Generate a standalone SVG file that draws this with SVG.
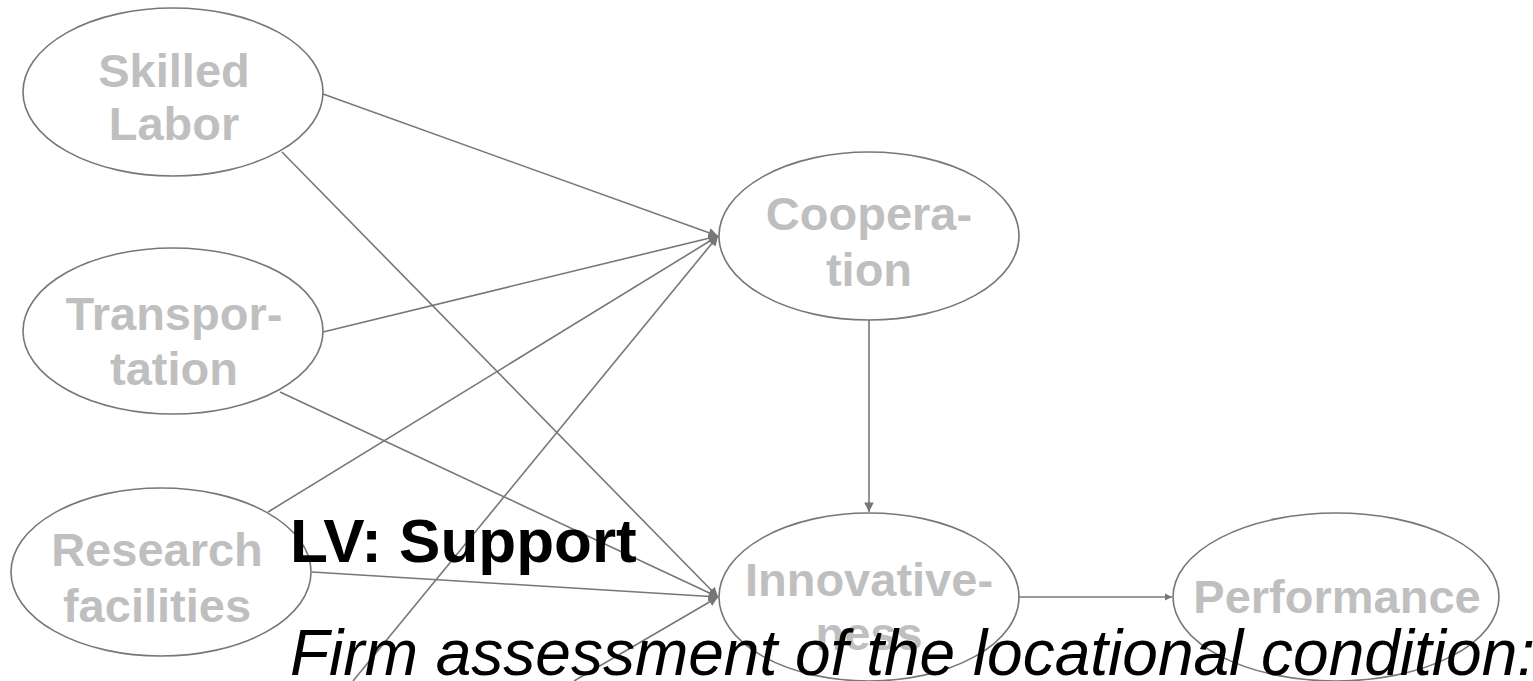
<svg xmlns="http://www.w3.org/2000/svg" width="1533" height="681" viewBox="0 0 1533 681">
  <style>
    .node ellipse { fill: #ffffff; stroke: #777777; stroke-width: 1.6; }
    .node text { font-family: "Liberation Sans", Arial, sans-serif; font-weight: bold; font-size: 47px; fill: #bfbfbf; text-anchor: middle; }
    .edge { stroke: #777777; stroke-width: 1.6; fill: none; marker-end: url(#arrow); }
    .edge.small { marker-end: url(#arrow-small); }
    .title { font-family: "Liberation Sans", Arial, sans-serif; font-weight: bold; font-size: 62px; fill: #000000; }
    .subtitle { font-family: "Liberation Sans", Arial, sans-serif; font-style: italic; font-size: 64px; fill: #000000; }
  </style>
  <defs>
    <marker id="arrow" viewBox="0 0 10 10" refX="10" refY="5" markerWidth="6" markerHeight="6" orient="auto" markerUnits="strokeWidth">
      <path d="M0,0 L10,5 L0,10 z" fill="#777777"/>
    </marker>
    <marker id="arrow-small" viewBox="0 0 10 10" refX="10" refY="5" markerWidth="4.5" markerHeight="4.5" orient="auto" markerUnits="strokeWidth">
      <path d="M0,0 L10,5 L0,10 z" fill="#777777"/>
    </marker>
  </defs>

  <!-- paths between the latent variables -->
  <g id="connectors">
    <line class="edge" x1="323" y1="94" x2="718" y2="236"/>
    <line class="edge" x1="323" y1="332" x2="718" y2="236"/>
    <line class="edge" x1="268" y1="512" x2="718" y2="236"/>
    <line class="edge" x1="353" y1="681" x2="718" y2="236"/>
    <line class="edge" x1="282" y1="152" x2="718" y2="597"/>
    <line class="edge" x1="280" y1="392" x2="718" y2="597"/>
    <line class="edge" x1="312" y1="572" x2="718" y2="597"/>
    <line class="edge" x1="574" y1="681" x2="718" y2="597"/>
    <line class="edge" x1="869" y1="320" x2="869" y2="512"/>
    <line class="edge small" x1="1019" y1="597" x2="1172" y2="597"/>
  </g>

  <g id="skilled-labor" class="node">
    <ellipse cx="173" cy="92" rx="150" ry="84"/>
    <text x="174" y="87">Skilled</text>
    <text x="174" y="140">Labor</text>
  </g>

  <g id="transportation" class="node">
    <ellipse cx="173" cy="331" rx="150" ry="83"/>
    <text x="174" y="330">Transpor-</text>
    <text x="174" y="385">tation</text>
  </g>

  <g id="research-facilities" class="node">
    <ellipse cx="161" cy="572" rx="150" ry="84"/>
    <text x="157" y="566">Research</text>
    <text x="157" y="622">facilities</text>
  </g>

  <g id="cooperation" class="node">
    <ellipse cx="869" cy="236" rx="150" ry="84"/>
    <text x="869" y="230">Coopera-</text>
    <text x="869" y="286">tion</text>
  </g>

  <g id="innovativeness" class="node">
    <ellipse cx="869" cy="597" rx="150" ry="84"/>
    <text x="869" y="596">Innovative-</text>
    <text x="869" y="650">ness</text>
  </g>

  <g id="performance" class="node">
    <ellipse cx="1336" cy="597" rx="163" ry="84"/>
    <text x="1337" y="613">Performance</text>
  </g>

  <g id="labels">
    <text class="title" x="290" y="562">LV: Support</text>
    <text class="subtitle" x="290" y="675">Firm assessment of the locational condition:</text>
  </g>
</svg>
